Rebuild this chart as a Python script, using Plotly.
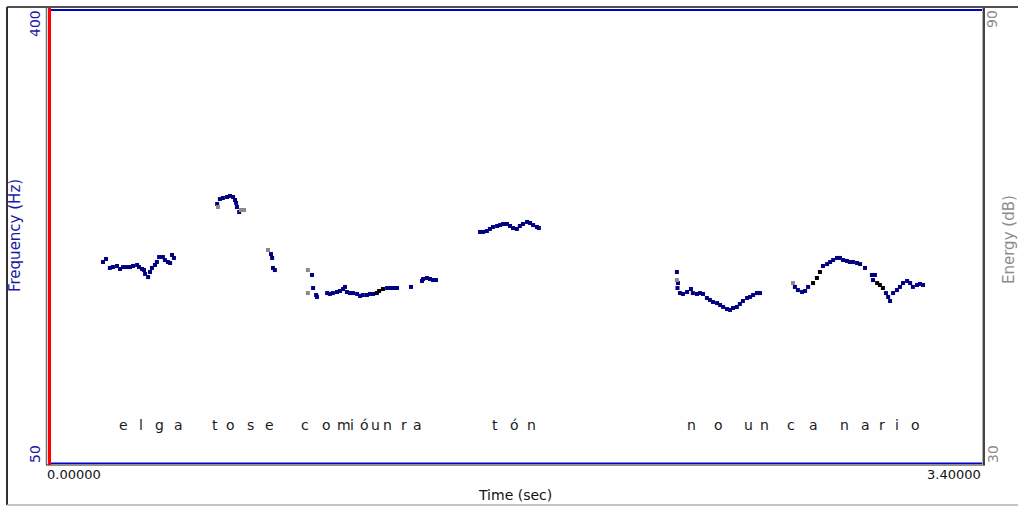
import plotly.graph_objects as go

# ---------------- data ----------------
# voiced pitch points (navy)
voiced_t = [0.200, 0.211, 0.225, 0.236, 0.251, 0.262, 0.273, 0.287, 0.298, 0.309, 0.324, 0.331,
            0.342, 0.349, 0.353, 0.364, 0.371, 0.378, 0.389, 0.396, 0.404, 0.418, 0.425, 0.436,
            0.444, 0.451, 0.458,
            0.615, 0.625, 0.636, 0.651, 0.662, 0.673, 0.680, 0.684, 0.687, 0.695,
            0.811, 0.815, 0.818, 0.825,
            0.960, 0.964, 0.975, 0.978, 1.015, 1.025, 1.036, 1.051, 1.062, 1.073, 1.080, 1.087,
            1.098, 1.109, 1.124, 1.135, 1.145, 1.160, 1.171, 1.182, 1.233, 1.244, 1.255, 1.269,
            1.320, 1.360, 1.364, 1.378, 1.389, 1.400, 1.411,
            1.571, 1.582, 1.596, 1.607, 1.618, 1.633, 1.644, 1.655, 1.669, 1.680, 1.691, 1.705,
            1.716, 1.727, 1.742, 1.753, 1.764, 1.778, 1.785,
            2.287, 2.291, 2.289, 2.298, 2.309, 2.324, 2.338, 2.345, 2.360, 2.371, 2.382, 2.396,
            2.407, 2.418, 2.433, 2.444, 2.455, 2.469, 2.480, 2.491, 2.505, 2.516, 2.527, 2.542,
            2.553, 2.564, 2.578, 2.589,
            2.716, 2.727, 2.742, 2.753, 2.764, 2.818, 2.833, 2.844, 2.855, 2.869, 2.880, 2.891,
            2.905, 2.916, 2.927, 2.942, 2.953, 2.971, 2.996, 3.007, 3.000, 3.047, 3.055, 3.062,
            3.073, 3.087, 3.098, 3.109, 3.124, 3.135, 3.145, 3.160, 3.171, 3.182]
voiced_f = [205.4, 207.7, 200.8, 201.5, 202.3, 200.0, 201.5, 201.5, 201.5, 202.3, 203.1, 201.5,
            200.0, 199.2, 196.2, 193.8, 197.7, 200.8, 203.1, 205.4, 209.2, 209.2, 206.9, 205.4,
            204.6, 210.8, 208.5,
            250.0, 253.8, 254.6, 255.4, 256.2, 255.4, 253.1, 250.8, 247.7, 243.8,
            211.5, 208.5, 200.8, 199.2,
            195.4, 185.4, 180.0, 178.5, 181.5, 180.8, 181.5, 182.3, 183.1, 184.6, 186.2, 182.3,
            181.5, 181.5, 180.8, 179.2, 180.0, 180.0, 180.8, 180.8, 185.4, 185.4, 185.4, 185.4,
            186.2, 190.8, 192.3, 193.1, 192.3, 191.5, 191.5,
            228.5, 228.5, 229.2, 230.8, 232.3, 233.1, 233.8, 234.6, 234.6, 233.1, 231.5, 230.8,
            233.1, 234.6, 236.2, 235.4, 233.8, 232.3, 231.5,
            197.7, 189.2, 185.4, 181.5, 180.8, 182.3, 184.6, 181.5, 180.8, 181.5, 180.8, 177.7,
            176.2, 174.6, 173.8, 172.3, 170.8, 169.2, 168.5, 170.0, 170.8, 173.1, 175.4, 177.7,
            178.5, 180.0, 181.5, 181.5,
            186.2, 183.8, 182.3, 183.1, 186.2, 202.3, 203.8, 205.4, 206.9, 208.5, 208.5, 206.9,
            206.2, 205.4, 205.4, 204.6, 203.8, 200.8, 195.4, 195.4, 191.5, 181.5, 178.5, 175.4,
            181.5, 183.8, 186.2, 189.2, 190.8, 189.2, 186.2, 187.7, 188.5, 187.7]

# weak / uncertain points (grey)
grey_t = [0.618, 0.702, 0.713, 0.800, 0.945, 0.945, 2.287, 2.709]
grey_f = [247.7, 245.4, 245.4, 214.6, 199.2, 181.5, 191.5, 189.2]

# transition points (black)
black_t = [1.196, 1.204, 1.218, 2.782, 2.796, 2.807, 3.015, 3.025, 3.036]
black_f = [181.5, 183.1, 184.6, 189.2, 193.1, 197.7, 189.2, 187.7, 185.4]

# phone labels
label_text = ["e", "l", "g", "a", "t", "o", "s", "e", "c", "o", "m", "i", "ó", "u", "n", "r", "a",
              "t", "ó", "n",
              "n", "o", "u", "n", "c", "a", "n", "a", "r", "i", "o"]
label_t = [0.276, 0.338, 0.407, 0.475, 0.607, 0.662, 0.736, 0.804, 0.936, 1.011, 1.076, 1.105,
           1.151, 1.191, 1.235, 1.293, 1.345,
           1.625, 1.696, 1.758,
           2.340, 2.438, 2.547, 2.607, 2.700, 2.784, 2.898, 2.971, 3.033, 3.087, 3.153]

# axes
time_range = [0.0, 3.4]
time_tick_text = ["0.00000", "3.40000"]
freq_range = [50, 400]
freq_tick_text = ["50", "400"]
energy_range = [30, 90]
energy_tick_text = ["30", "90"]

# ---------------- figure ----------------
W, H = 1018, 508
ML, MR, MT, MB = 48, 35, 9, 44
PW, PH = W - ML - MR, H - MT - MB


def px(x):
    return (x - ML) / PW


def py(y):
    return (H - MB - y) / PH


NAVY = "#000080"
BLUE_TXT = "#1a1aa6"
GREY_TXT = "#8c8c8c"
FONT = "DejaVu Sans"

fig = go.Figure()
fig.add_trace(go.Scatter(x=voiced_t, y=voiced_f, mode="markers",
                         marker=dict(symbol="square", size=4, color=NAVY, line=dict(width=0)),
                         showlegend=False, hoverinfo="x+y"))
fig.add_trace(go.Scatter(x=grey_t, y=grey_f, mode="markers",
                         marker=dict(symbol="square", size=4, color="#8a8a8a", line=dict(width=0)),
                         showlegend=False))
fig.add_trace(go.Scatter(x=black_t, y=black_f, mode="markers",
                         marker=dict(symbol="square", size=4, color="#000000", line=dict(width=0)),
                         showlegend=False))
# invisible trace to define energy axis
fig.add_trace(go.Scatter(x=[None], y=[None], yaxis="y2", showlegend=False))

annotations = []
for txt, t in zip(label_text, label_t):
    annotations.append(dict(x=t, xref="x", y=py(425), yref="paper", text=txt, showarrow=False,
                            font=dict(family=FONT, size=14, color="#1a1a1a"),
                            xanchor="center", yanchor="middle"))

# time ticks
annotations.append(dict(x=time_range[0], xref="x", y=py(475), yref="paper", text=time_tick_text[0],
                        showarrow=False, xanchor="left", yanchor="middle", xshift=-3,
                        font=dict(family=FONT, size=13, color="#111111")))
annotations.append(dict(x=time_range[1], xref="x", y=py(475), yref="paper", text=time_tick_text[1],
                        showarrow=False, xanchor="right", yanchor="middle", xshift=0,
                        font=dict(family=FONT, size=13, color="#111111")))
annotations.append(dict(x=px(515), xref="paper", y=py(495), yref="paper", text="Time (sec)",
                        showarrow=False, xanchor="center", yanchor="middle",
                        font=dict(family=FONT, size=14, color="#111111")))

# frequency ticks
annotations.append(dict(x=px(35), xref="paper", y=freq_range[1], yref="y", yshift=-15,
                        text=freq_tick_text[1], textangle=-90, showarrow=False,
                        xanchor="center", yanchor="middle",
                        font=dict(family=FONT, size=14, color=BLUE_TXT)))
annotations.append(dict(x=px(35), xref="paper", y=freq_range[0], yref="y", yshift=10,
                        text=freq_tick_text[0], textangle=-90, showarrow=False,
                        xanchor="center", yanchor="middle",
                        font=dict(family=FONT, size=14, color=BLUE_TXT)))
annotations.append(dict(x=px(15), xref="paper", y=py(236), yref="paper", text="Frequency (Hz)",
                        textangle=-90, showarrow=False, xanchor="center", yanchor="middle",
                        font=dict(family=FONT, size=15, color=BLUE_TXT)))

# energy ticks
annotations.append(dict(x=px(992), xref="paper", y=energy_range[1], yref="y2", yshift=-10,
                        text=energy_tick_text[1], textangle=-90, showarrow=False,
                        xanchor="center", yanchor="middle",
                        font=dict(family=FONT, size=14, color=GREY_TXT)))
annotations.append(dict(x=px(993), xref="paper", y=energy_range[0], yref="y2", yshift=10,
                        text=energy_tick_text[0], textangle=-90, showarrow=False,
                        xanchor="center", yanchor="middle",
                        font=dict(family=FONT, size=14, color=GREY_TXT)))
annotations.append(dict(x=px(1009), xref="paper", y=py(240), yref="paper", text="Energy (dB)",
                        textangle=-90, showarrow=False, xanchor="center", yanchor="middle",
                        font=dict(family=FONT, size=15, color=GREY_TXT)))

shapes = []


def line(x0, y0, x1, y1, color, width):
    shapes.append(dict(type="line", xref="paper", yref="paper", x0=px(x0), y0=py(y0),
                       x1=px(x1), y1=py(y1), line=dict(color=color, width=width), layer="above"))


# outer window frame
line(7, 7, 1030, 7, "#505050", 2)
line(7, 7, 7, 505, "#303030", 2)
line(7, 505, 1030, 505, "#b0b0b0", 1.5)
# plot frame
line(46.5, 8, 46.5, 465, "#707070", 1.5)
line(48, 10, 984, 10, "#0000c8", 2)
line(48, 463.3, 984, 463.3, "#0000c8", 1.5)
line(46, 465, 985, 465, "#202020", 1.2)
line(982.5, 8, 982.5, 465, "#b0b0b0", 1)
line(984, 8, 984, 465, "#303030", 1.8)
# red cursor at time 0
line(49.5, 8, 49.5, 465, "#ff0000", 3)

fig.update_layout(
    width=W, height=H,
    margin=dict(l=ML, r=MR, t=MT, b=MB, pad=0),
    paper_bgcolor="#ffffff", plot_bgcolor="#fefefe",
    xaxis=dict(range=time_range, showticklabels=False, showgrid=False, zeroline=False,
               showline=False, ticks="", fixedrange=True),
    yaxis=dict(range=freq_range, showticklabels=False, showgrid=False, zeroline=False,
               showline=False, ticks="", fixedrange=True),
    yaxis2=dict(range=energy_range, overlaying="y", side="right", showticklabels=False,
                showgrid=False, zeroline=False, showline=False, ticks="", fixedrange=True),
    annotations=annotations,
    shapes=shapes,
    showlegend=False,
)

fig.write_html("out.html", config={"displayModeBar": False},
               post_script="document.body.style.margin='0px';document.body.style.overflow='hidden';")
